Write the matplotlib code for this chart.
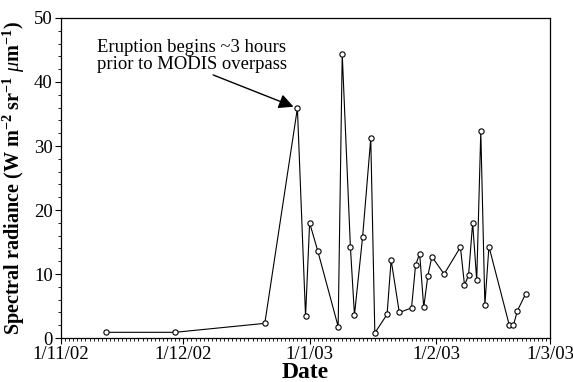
import numpy as np
import pandas as pd
import matplotlib
matplotlib.use("Agg")
import matplotlib.pyplot as plt
import matplotlib.dates as mdates

plt.rcParams.update({"font.family": "Liberation Serif", "mathtext.fontset": "custom",
    "mathtext.rm": "Liberation Serif", "mathtext.it": "Liberation Serif:italic",
    "mathtext.bf": "Liberation Serif:bold"})

# MODIS overpass dates and spectral radiance (W m-2 sr-1 um-1)
dates = ["2002-11-12", "2002-11-29", "2002-12-21", "2002-12-29", "2002-12-31",
         "2003-01-01", "2003-01-03", "2003-01-08", "2003-01-09", "2003-01-11",
         "2003-01-12", "2003-01-14", "2003-01-16", "2003-01-17", "2003-01-20",
         "2003-01-21", "2003-01-23", "2003-01-26", "2003-01-27", "2003-01-28",
         "2003-01-29", "2003-01-30", "2003-01-31", "2003-02-03", "2003-02-07",
         "2003-02-08", "2003-02-09", "2003-02-10", "2003-02-11", "2003-02-12",
         "2003-02-13", "2003-02-14", "2003-02-19", "2003-02-20", "2003-02-21",
         "2003-02-23"]
radiance = [0.9, 0.9, 2.3, 35.9, 3.4, 18.0, 13.6, 1.8, 44.4, 14.3, 3.6, 15.8,
            31.2, 0.8, 3.7, 12.2, 4.0, 4.7, 11.4, 13.2, 4.8, 9.7, 12.7, 10.0,
            14.2, 8.3, 9.8, 18.0, 9.0, 32.3, 5.2, 14.3, 2.0, 2.0, 4.3, 6.9]
month_ticks = ["2002-11-01", "2002-12-01", "2003-01-01", "2003-02-01", "2003-03-01"]
month_labels = ["1/11/02", "1/12/02", "1/1/03", "1/2/03", "1/3/03"]

t = pd.to_datetime(dates)
ticks = pd.to_datetime(month_ticks)

fig = plt.figure(figsize=(5.73, 3.82), dpi=100)
ax = fig.add_axes([0.1065, 0.115, 0.8535, 0.838])
ax.plot(t, radiance, "-", color="black", lw=0.8, marker="o", ms=3.8,
        mfc="white", mec="black", mew=0.8, zorder=3, clip_on=False)

ax.set_xlim(ticks[0], ticks[-1])
ax.set_ylim(0, 50)
ax.set_xticks(ticks)
ax.set_xticklabels(month_labels)
ax.xaxis.set_minor_locator(mdates.DayLocator())
ax.set_yticks(np.arange(0, 51, 10))
ax.yaxis.set_minor_locator(matplotlib.ticker.MultipleLocator(2))
ax.tick_params(which="major", direction="out", length=4, width=0.8, labelsize=13.5, pad=2)
ax.tick_params(which="minor", direction="out", length=2, width=0.6)
for s in ax.spines.values():
    s.set_linewidth(0.9)

ax.set_xlabel("Date", fontsize=17, fontweight="bold")
ax.xaxis.set_label_coords(0.5, -0.074)
ax.set_ylabel(r"Spectral radiance (W m$^{\mathbf{-2}}$ sr$^{\mathbf{-1}}$ $\mu$m$^{\mathbf{-1}}$)",
              fontsize=14.5, fontweight="bold")
ax.yaxis.set_label_coords(-0.07, 0.5)

ax.text(0.074, 0.935, "Eruption begins ~3 hours\nprior to MODIS overpass",
        transform=ax.transAxes, fontsize=13.4, va="top", ha="left", linespacing=1.0)
ax.annotate("", xy=(t[3], radiance[3]), xytext=(0.311, 0.822), textcoords="axes fraction",
            arrowprops=dict(arrowstyle="-|>", mutation_scale=22, color="black", lw=1,
                            shrinkA=0, shrinkB=3))

fig.savefig("out.png", dpi=100)
